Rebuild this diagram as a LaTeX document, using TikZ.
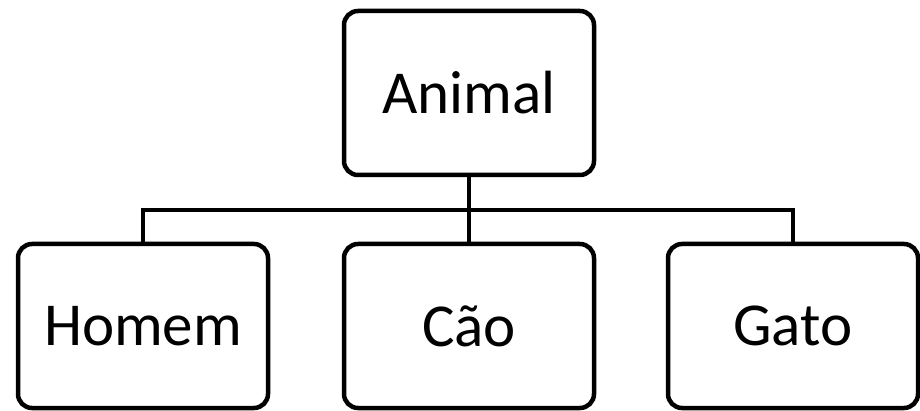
\documentclass[tikz,border=0pt]{standalone}
\usepackage{fontspec}
\setmainfont{Carlito}
\begin{document}
\begin{tikzpicture}[x=1pt,y=-1pt,
  box/.style={draw=black, line width=4.5pt, rounded corners=14pt, fill=white,
    minimum width=250pt, minimum height=164pt, inner sep=0pt,
    font=\fontsize{61}{70}\selectfont},
  link/.style={draw=black, line width=4.5pt}]
  \useasboundingbox[fill=white] (0,0) rectangle (920,411);
  % top node
  \node[box] (animal) at (469,93) {Animal};
  % children
  \node[box] (homem) at (143,326) {Homem};
  \node[box] (cao) at (469,326) {Cão};
  \node[box] (gato) at (793,326) {Gato};
  % tree connector
  \coordinate (bus) at (469,210);
  \draw[link] (animal.south) -- (bus);
  \draw[link] (homem.north) |- (bus) -| (gato.north);
  \draw[link] (bus) -- (cao.north);
\end{tikzpicture}
\end{document}
